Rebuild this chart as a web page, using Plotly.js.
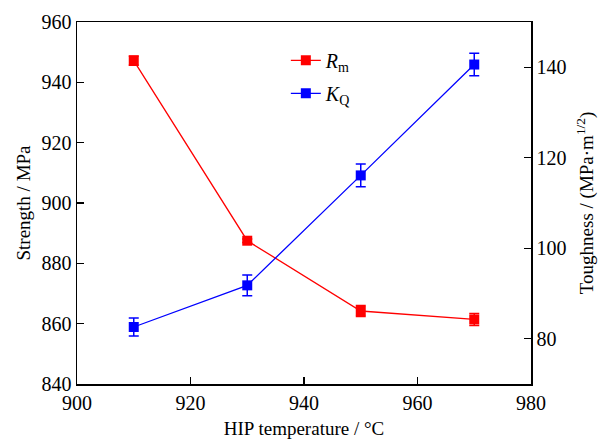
<!DOCTYPE html>
<html>
<head>
<meta charset="utf-8">
<script src="https://cdn.plot.ly/plotly-3.0.1.min.js"></script>
<style>html,body{margin:0;padding:0;background:#fff;}#chart{width:604px;height:439px;}</style>
</head>
<body>
<div id="chart"></div>
<script>
const temperature = [910, 930, 950, 970];
const strengthRm = [947.2, 887.5, 864.2, 861.4];
const strengthErr = [1.5, 0.6, 1.8, 2.0];
const toughnessKQ = [82.6, 91.8, 116.1, 140.6];
const toughnessErr = [2.0, 2.3, 2.5, 2.5];
const xTicks = [900, 920, 940, 960, 980];
const leftTicks = [840, 860, 880, 900, 920, 940, 960];
const rightTicks = [80, 100, 120, 140];

const FONT = '"Liberation Serif", "Times New Roman", serif';

const traces = [
  {
    x: temperature, y: strengthRm, name: '<i>R</i><sub>m</sub>',
    type: 'scatter', mode: 'lines+markers', legendgroup: 'a',
    line: {color: '#ff0000', width: 1.3},
    marker: {symbol: 'square', size: 10, color: '#ff0000'},
    error_y: {type: 'data', array: strengthErr, visible: true, color: '#ff0000', thickness: 1.5, width: 5},
    yaxis: 'y'
  },
  {
    x: temperature, y: toughnessKQ, name: '<i>K</i><sub>Q</sub>',
    type: 'scatter', mode: 'lines+markers', legendgroup: 'b',
    line: {color: '#0000ff', width: 1.3},
    marker: {symbol: 'square', size: 10, color: '#0000ff'},
    error_y: {type: 'data', array: toughnessErr, visible: true, color: '#0000ff', thickness: 1.5, width: 5},
    yaxis: 'y2'
  }
];

const layout = {
  width: 604, height: 439,
  margin: {l: 77, r: 73, t: 22, b: 55},
  paper_bgcolor: '#fff', plot_bgcolor: '#fff',
  font: {family: FONT, size: 20, color: '#000'},
  showlegend: true,
  legend: {
    x: 0.46, y: 0.948, xanchor: 'left', yanchor: 'top',
    bgcolor: 'rgba(0,0,0,0)', font: {family: FONT, size: 20},
    traceorder: 'grouped', tracegroupgap: 4
  },
  xaxis: {
    range: [900, 980], tickvals: xTicks, ticktext: xTicks.map(String),
    ticks: 'inside', ticklen: 7, tickwidth: 1.3, tickcolor: '#000',
    showline: true, linecolor: '#000', linewidth: 1.5, mirror: true,
    showgrid: false, zeroline: false,
    tickfont: {family: FONT, size: 20},
    title: {text: 'HIP temperature / °C', font: {family: FONT, size: 19}, standoff: 9}
  },
  yaxis: {
    range: [840, 960], tickvals: leftTicks, ticktext: leftTicks.map(String),
    ticks: 'inside', ticklen: 7, tickwidth: 1.3, tickcolor: '#000',
    showline: true, linecolor: '#000', linewidth: 1.5,
    showgrid: false, zeroline: false,
    tickfont: {family: FONT, size: 20},
    title: {text: 'Strength / MPa', font: {family: FONT, size: 19}, standoff: 6}
  },
  yaxis2: {
    range: [70, 150], tickvals: rightTicks, ticktext: rightTicks.map(String),
    overlaying: 'y', side: 'right',
    ticks: 'inside', ticklen: 7, tickwidth: 1.3, tickcolor: '#000',
    showline: true, linecolor: '#000', linewidth: 1.5,
    showgrid: false, zeroline: false,
    tickfont: {family: FONT, size: 20},
    title: {text: 'Toughness / (MPa·m<sup>1/2</sup>)', font: {family: FONT, size: 19}, standoff: 14}
  }
};

Plotly.newPlot('chart', traces, layout, {displayModeBar: false, staticPlot: true});
</script>
</body>
</html>
